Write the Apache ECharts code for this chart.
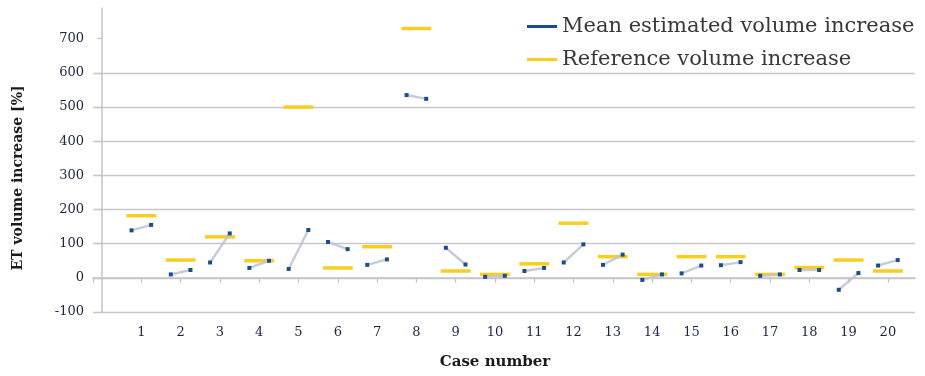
<!DOCTYPE html>
<html>
<head>
<meta charset="utf-8">
<script src="https://cdn.jsdelivr.net/npm/echarts@6/dist/echarts.min.js"></script>
<style>html,body{margin:0;padding:0;background:#fff}#c{width:925px;height:376px}</style>
</head>
<body>
<div id="c"></div>
<script>
const cases = [1,2,3,4,5,6,7,8,9,10,11,12,13,14,15,16,17,18,19,20];
const meanStart = [139, 10, 45, 29, 26, 105, 38, 535, 88, 3, 20, 45, 38, -6, 13, 37, 6, 23, -35, 36];
const meanEnd   = [155, 23, 130, 50, 140, 84, 54, 524, 39, 6, 29, 98, 68, 10, 36, 46, 10, 23, 14, 52];
const reference = [182, 52, 120, 50, 500, 29, 91, 730, 20, 10, 41, 160, 62, 10, 62, 62, 10, 30, 52, 20];
const yTicks = [-100, 0, 100, 200, 300, 400, 500, 600, 700];

const SERIF = '"DejaVu Serif", serif';
const X_MIN = -0.23, X_MAX = 20.69;
const PT_OFF = 0.25, REF_HALF = 0.38;
const BLUE = '#1b4d8e', YELLOW = '#f9cf1f', GREYLINE = '#bcc3d4';

const chart = echarts.init(document.getElementById('c'), null, {renderer: 'canvas'});
chart.setOption({
  animation: false,
  backgroundColor: '#fff',
  grid: {left: 93, right: 10, top: 8, bottom: 64},
  xAxis: {
    type: 'value', min: X_MIN, max: X_MAX,
    splitLine: {show: false},
    axisLine: {show: true, lineStyle: {color: '#c4c4c4', width: 1.5}},
    axisTick: {show: true, length: 5, customValues: [X_MIN].concat(cases), lineStyle: {color: '#c4c4c4', width: 1.2}},
    axisLabel: {customValues: cases, margin: 14, fontFamily: SERIF, fontSize: 13, color: '#1c2440'}
  },
  yAxis: {
    type: 'value', min: -100, max: 790, interval: 100,
    axisLine: {show: true, lineStyle: {color: '#c4c4c4', width: 1.5}},
    axisTick: {show: true, length: 5, customValues: yTicks, lineStyle: {color: '#c4c4c4', width: 1.2}},
    axisLabel: {customValues: yTicks, margin: 9, fontFamily: SERIF, fontSize: 13, color: '#1c2440'},
    splitLine: {show: true, showMaxLine: false, lineStyle: {color: '#c8c8c8', width: 1.3}}
  },
  legend: {
    orient: 'vertical', left: 522, top: 9, itemGap: 8,
    itemWidth: 30, itemHeight: 3, icon: 'rect',
    textStyle: {fontFamily: SERIF, fontSize: 21, lineHeight: 25, color: '#383838'},
    data: ['Mean estimated volume increase', 'Reference volume increase']
  },
  graphic: [
    {type: 'rect', z: 3, shape: {x: 493, y: 0, width: 432, height: 66}, style: {fill: '#fff'}},
    {type: 'text', z: 5, x: 18, y: 178, rotation: Math.PI / 2,
     style: {text: 'ET volume increase [%]', fontFamily: SERIF, fontWeight: 'bold', fontSize: 14, fill: '#1a1a1a', align: 'center', verticalAlign: 'middle'}},
    {type: 'text', z: 5, x: 495, y: 362,
     style: {text: 'Case number', fontFamily: SERIF, fontWeight: 'bold', fontSize: 15, fill: '#1a1a1a', align: 'center', verticalAlign: 'middle'}}
  ],
  series: [
    {
      name: 'Reference volume increase', type: 'custom',
      itemStyle: {color: YELLOW},
      encode: {x: 0, y: 1},
      data: cases.map((c, k) => [c, reference[k]]),
      renderItem: function (params, api) {
        const c = api.value(0), r = api.value(1);
        const p1 = api.coord([c - REF_HALF, r]);
        const p2 = api.coord([c + REF_HALF, r]);
        return {type: 'line', shape: {x1: p1[0], y1: p1[1], x2: p2[0], y2: p2[1]},
                style: {stroke: YELLOW, lineWidth: 3.5}};
      }
    },
    {
      name: 'Mean estimated volume increase', type: 'custom',
      itemStyle: {color: BLUE},
      encode: {x: 0, y: [1, 2]},
      data: cases.map((c, k) => [c, meanStart[k], meanEnd[k]]),
      renderItem: function (params, api) {
        const c = api.value(0), a = api.value(1), b = api.value(2);
        const p1 = api.coord([c - PT_OFF, a]);
        const p2 = api.coord([c + PT_OFF, b]);
        return {type: 'group', children: [
          {type: 'line', shape: {x1: p1[0], y1: p1[1], x2: p2[0], y2: p2[1]},
           style: {stroke: GREYLINE, lineWidth: 2.5, opacity: 0.85}},
          {type: 'rect', shape: {x: p1[0] - 2, y: p1[1] - 2, width: 4, height: 4}, style: {fill: BLUE}},
          {type: 'rect', shape: {x: p2[0] - 2, y: p2[1] - 2, width: 4, height: 4}, style: {fill: BLUE}}
        ]};
      }
    }
  ]
});
</script>
</body>
</html>
